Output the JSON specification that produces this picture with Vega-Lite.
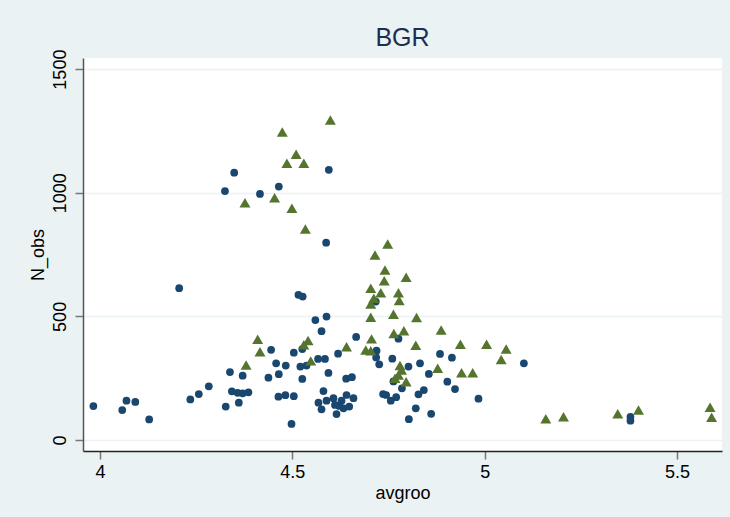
{
  "$schema": "https://vega.github.io/schema/vega-lite/v6.json",
  "width": 639,
  "height": 393,
  "autosize": {"type": "none"},
  "padding": {"left": 83, "top": 58, "right": 8, "bottom": 66},
  "background": "#EAF2F3",
  "title": {"text": "BGR", "fontSize": 25, "font": "Liberation Sans", "fontWeight": "normal", "color": "#1e2d53", "anchor": "middle", "frame": "group", "offset": -2},
  "config": {
    "view": {"fill": "white", "stroke": null},
    "font": "Liberation Sans"
  },
  "datasets": {
    "pts": [
      {"avgroo": 3.983, "N_obs": 137, "g": "a"},
      {"avgroo": 4.058, "N_obs": 121, "g": "a"},
      {"avgroo": 4.069, "N_obs": 159, "g": "a"},
      {"avgroo": 4.092, "N_obs": 154, "g": "a"},
      {"avgroo": 4.128, "N_obs": 83, "g": "a"},
      {"avgroo": 4.206, "N_obs": 614, "g": "a"},
      {"avgroo": 4.235, "N_obs": 164, "g": "a"},
      {"avgroo": 4.257, "N_obs": 186, "g": "a"},
      {"avgroo": 4.283, "N_obs": 217, "g": "a"},
      {"avgroo": 4.327, "N_obs": 135, "g": "a"},
      {"avgroo": 4.338, "N_obs": 275, "g": "a"},
      {"avgroo": 4.343, "N_obs": 197, "g": "a"},
      {"avgroo": 4.358, "N_obs": 191, "g": "a"},
      {"avgroo": 4.361, "N_obs": 151, "g": "a"},
      {"avgroo": 4.371, "N_obs": 189, "g": "a"},
      {"avgroo": 4.371, "N_obs": 260, "g": "a"},
      {"avgroo": 4.386, "N_obs": 193, "g": "a"},
      {"avgroo": 4.325, "N_obs": 1007, "g": "a"},
      {"avgroo": 4.349, "N_obs": 1081, "g": "a"},
      {"avgroo": 4.416, "N_obs": 995, "g": "a"},
      {"avgroo": 4.465, "N_obs": 1025, "g": "a"},
      {"avgroo": 4.595, "N_obs": 1093, "g": "a"},
      {"avgroo": 4.588, "N_obs": 798, "g": "a"},
      {"avgroo": 4.438, "N_obs": 252, "g": "a"},
      {"avgroo": 4.445, "N_obs": 365, "g": "a"},
      {"avgroo": 4.458, "N_obs": 310, "g": "a"},
      {"avgroo": 4.465, "N_obs": 266, "g": "a"},
      {"avgroo": 4.483, "N_obs": 301, "g": "a"},
      {"avgroo": 4.464, "N_obs": 175, "g": "a"},
      {"avgroo": 4.482, "N_obs": 181, "g": "a"},
      {"avgroo": 4.504, "N_obs": 177, "g": "a"},
      {"avgroo": 4.498, "N_obs": 65, "g": "a"},
      {"avgroo": 4.504, "N_obs": 353, "g": "a"},
      {"avgroo": 4.521, "N_obs": 297, "g": "a"},
      {"avgroo": 4.537, "N_obs": 301, "g": "a"},
      {"avgroo": 4.526, "N_obs": 247, "g": "a"},
      {"avgroo": 4.526, "N_obs": 368, "g": "a"},
      {"avgroo": 4.516, "N_obs": 587, "g": "a"},
      {"avgroo": 4.527, "N_obs": 580, "g": "a"},
      {"avgroo": 4.56, "N_obs": 485, "g": "a"},
      {"avgroo": 4.589, "N_obs": 499, "g": "a"},
      {"avgroo": 4.576, "N_obs": 440, "g": "a"},
      {"avgroo": 4.567, "N_obs": 328, "g": "a"},
      {"avgroo": 4.585, "N_obs": 328, "g": "a"},
      {"avgroo": 4.581, "N_obs": 198, "g": "a"},
      {"avgroo": 4.594, "N_obs": 271, "g": "a"},
      {"avgroo": 4.619, "N_obs": 349, "g": "a"},
      {"avgroo": 4.64, "N_obs": 248, "g": "a"},
      {"avgroo": 4.655, "N_obs": 254, "g": "a"},
      {"avgroo": 4.666, "N_obs": 417, "g": "a"},
      {"avgroo": 4.568, "N_obs": 151, "g": "a"},
      {"avgroo": 4.576, "N_obs": 124, "g": "a"},
      {"avgroo": 4.589, "N_obs": 159, "g": "a"},
      {"avgroo": 4.607, "N_obs": 169, "g": "a"},
      {"avgroo": 4.615, "N_obs": 105, "g": "a"},
      {"avgroo": 4.622, "N_obs": 138, "g": "a"},
      {"avgroo": 4.611, "N_obs": 142, "g": "a"},
      {"avgroo": 4.641, "N_obs": 182, "g": "a"},
      {"avgroo": 4.659, "N_obs": 169, "g": "a"},
      {"avgroo": 4.648, "N_obs": 135, "g": "a"},
      {"avgroo": 4.633, "N_obs": 128, "g": "a"},
      {"avgroo": 4.628, "N_obs": 159, "g": "a"},
      {"avgroo": 4.717, "N_obs": 560, "g": "a"},
      {"avgroo": 4.719, "N_obs": 361, "g": "a"},
      {"avgroo": 4.718, "N_obs": 334, "g": "a"},
      {"avgroo": 4.726, "N_obs": 306, "g": "a"},
      {"avgroo": 4.76, "N_obs": 329, "g": "a"},
      {"avgroo": 4.776, "N_obs": 410, "g": "a"},
      {"avgroo": 4.763, "N_obs": 237, "g": "a"},
      {"avgroo": 4.802, "N_obs": 297, "g": "a"},
      {"avgroo": 4.832, "N_obs": 310, "g": "a"},
      {"avgroo": 4.855, "N_obs": 267, "g": "a"},
      {"avgroo": 4.884, "N_obs": 348, "g": "a"},
      {"avgroo": 4.915, "N_obs": 333, "g": "a"},
      {"avgroo": 4.903, "N_obs": 236, "g": "a"},
      {"avgroo": 4.923, "N_obs": 206, "g": "a"},
      {"avgroo": 4.785, "N_obs": 209, "g": "a"},
      {"avgroo": 4.828, "N_obs": 185, "g": "a"},
      {"avgroo": 4.842, "N_obs": 202, "g": "a"},
      {"avgroo": 4.821, "N_obs": 128, "g": "a"},
      {"avgroo": 4.861, "N_obs": 106, "g": "a"},
      {"avgroo": 4.803, "N_obs": 84, "g": "a"},
      {"avgroo": 4.736, "N_obs": 186, "g": "a"},
      {"avgroo": 4.744, "N_obs": 182, "g": "a"},
      {"avgroo": 4.756, "N_obs": 159, "g": "a"},
      {"avgroo": 4.77, "N_obs": 173, "g": "a"},
      {"avgroo": 4.984, "N_obs": 167, "g": "a"},
      {"avgroo": 5.102, "N_obs": 310, "g": "a"},
      {"avgroo": 5.379, "N_obs": 94, "g": "a"},
      {"avgroo": 5.379, "N_obs": 78, "g": "a"},
      {"avgroo": 4.38, "N_obs": 303, "g": "b"},
      {"avgroo": 4.41, "N_obs": 407, "g": "b"},
      {"avgroo": 4.416, "N_obs": 357, "g": "b"},
      {"avgroo": 4.53, "N_obs": 385, "g": "b"},
      {"avgroo": 4.541, "N_obs": 402, "g": "b"},
      {"avgroo": 4.548, "N_obs": 320, "g": "b"},
      {"avgroo": 4.599, "N_obs": 1294, "g": "b"},
      {"avgroo": 4.474, "N_obs": 1246, "g": "b"},
      {"avgroo": 4.51, "N_obs": 1156, "g": "b"},
      {"avgroo": 4.486, "N_obs": 1119, "g": "b"},
      {"avgroo": 4.53, "N_obs": 1119, "g": "b"},
      {"avgroo": 4.377, "N_obs": 960, "g": "b"},
      {"avgroo": 4.454, "N_obs": 980, "g": "b"},
      {"avgroo": 4.499, "N_obs": 937, "g": "b"},
      {"avgroo": 4.534, "N_obs": 853, "g": "b"},
      {"avgroo": 4.748, "N_obs": 793, "g": "b"},
      {"avgroo": 4.715, "N_obs": 748, "g": "b"},
      {"avgroo": 4.741, "N_obs": 688, "g": "b"},
      {"avgroo": 4.796, "N_obs": 658, "g": "b"},
      {"avgroo": 4.739, "N_obs": 644, "g": "b"},
      {"avgroo": 4.704, "N_obs": 614, "g": "b"},
      {"avgroo": 4.73, "N_obs": 596, "g": "b"},
      {"avgroo": 4.776, "N_obs": 596, "g": "b"},
      {"avgroo": 4.712, "N_obs": 573, "g": "b"},
      {"avgroo": 4.778, "N_obs": 564, "g": "b"},
      {"avgroo": 4.704, "N_obs": 550, "g": "b"},
      {"avgroo": 4.704, "N_obs": 496, "g": "b"},
      {"avgroo": 4.763, "N_obs": 509, "g": "b"},
      {"avgroo": 4.823, "N_obs": 495, "g": "b"},
      {"avgroo": 4.764, "N_obs": 431, "g": "b"},
      {"avgroo": 4.79, "N_obs": 442, "g": "b"},
      {"avgroo": 4.887, "N_obs": 445, "g": "b"},
      {"avgroo": 4.706, "N_obs": 409, "g": "b"},
      {"avgroo": 4.937, "N_obs": 387, "g": "b"},
      {"avgroo": 4.821, "N_obs": 383, "g": "b"},
      {"avgroo": 4.641, "N_obs": 377, "g": "b"},
      {"avgroo": 4.691, "N_obs": 364, "g": "b"},
      {"avgroo": 4.704, "N_obs": 361, "g": "b"},
      {"avgroo": 4.78, "N_obs": 301, "g": "b"},
      {"avgroo": 4.784, "N_obs": 283, "g": "b"},
      {"avgroo": 4.776, "N_obs": 263, "g": "b"},
      {"avgroo": 4.767, "N_obs": 250, "g": "b"},
      {"avgroo": 4.796, "N_obs": 236, "g": "b"},
      {"avgroo": 4.878, "N_obs": 290, "g": "b"},
      {"avgroo": 4.94, "N_obs": 272, "g": "b"},
      {"avgroo": 4.969, "N_obs": 272, "g": "b"},
      {"avgroo": 5.005, "N_obs": 387, "g": "b"},
      {"avgroo": 5.056, "N_obs": 368, "g": "b"},
      {"avgroo": 5.043, "N_obs": 326, "g": "b"},
      {"avgroo": 5.159, "N_obs": 86, "g": "b"},
      {"avgroo": 5.205, "N_obs": 94, "g": "b"},
      {"avgroo": 5.346, "N_obs": 106, "g": "b"},
      {"avgroo": 5.4, "N_obs": 121, "g": "b"},
      {"avgroo": 5.586, "N_obs": 132, "g": "b"},
      {"avgroo": 5.59, "N_obs": 92, "g": "b"}
    ]
  },
  "data": {"name": "pts"},
  "mark": {"type": "point", "filled": true, "opacity": 1, "strokeWidth": 0},
  "encoding": {
    "x": {
      "field": "avgroo", "type": "quantitative",
      "scale": {"domain": [3.956, 5.617], "nice": false, "zero": false},
      "axis": {
        "values": [4, 4.5, 5, 5.5], "format": "~g", "grid": false, "title": "avgroo",
        "labelFontSize": 18, "labelColor": "#000000", "labelPadding": 4,
        "titleFontSize": 18, "titleFontWeight": "normal", "titleColor": "#000000", "titlePadding": 3,
        "tickSize": 8, "tickColor": "#777777", "tickWidth": 1.5,
        "domainColor": "#222222", "domainWidth": 1.5, "labelFlush": false
      }
    },
    "y": {
      "field": "N_obs", "type": "quantitative",
      "scale": {"domain": [-44.5, 1545], "nice": false, "zero": false},
      "axis": {
        "values": [0, 500, 1000, 1500], "format": "d", "grid": true, "gridColor": "#EAF2F3", "gridWidth": 1.5,
        "title": "N_obs",
        "labelFontSize": 18, "labelColor": "#000000", "labelAngle": -90, "labelAlign": "center", "labelBaseline": "bottom", "labelPadding": 6,
        "titleFontSize": 18, "titleFontWeight": "normal", "titleColor": "#000000", "titlePadding": 4,
        "tickSize": 8, "tickColor": "#777777", "tickWidth": 1.5,
        "domainColor": "#555555", "domainWidth": 1.5, "labelFlush": false
      }
    },
    "shape": {"field": "g", "type": "nominal", "scale": {"domain": ["a", "b"], "range": ["circle", "triangle-up"]}, "legend": null},
    "color": {"field": "g", "type": "nominal", "scale": {"domain": ["a", "b"], "range": ["#1a476f", "#55752f"]}, "legend": null},
    "size": {"field": "g", "type": "nominal", "scale": {"domain": ["a", "b"], "range": [60, 120]}, "legend": null}
  }
}
